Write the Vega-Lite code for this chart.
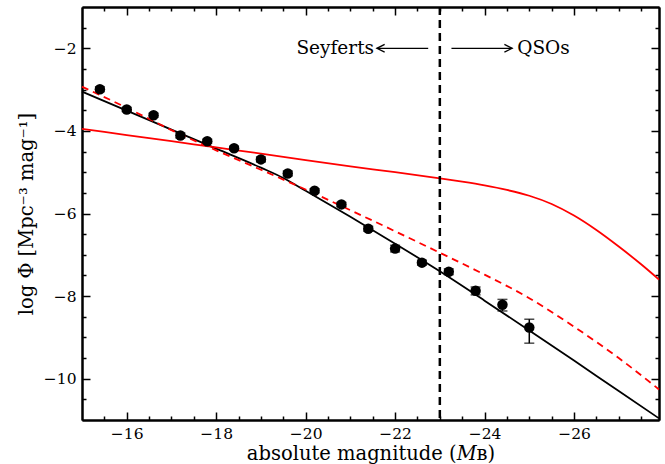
{
  "$schema": "https://vega.github.io/schema/vega-lite/v6.json",
  "width": 577,
  "height": 413,
  "autosize": {"type": "none"},
  "padding": {"left": 82, "top": 7, "right": 6, "bottom": 44},
  "config": {
    "view": {"stroke": null},
    "axis": {
      "grid": false,
      "domainColor": "black",
      "domainWidth": 2,
      "tickColor": "black",
      "tickWidth": 1.5,
      "labelColor": "black",
      "labelFont": "'DejaVu Serif', serif",
      "labelFontSize": 15.5,
      "titleFont": "'DejaVu Serif', serif",
      "titleFontSize": 19.5,
      "titleFontWeight": "normal",
      "titleColor": "black"
    }
  },
  "datasets": {
    "points": [
      {"M": -15.4, "logphi": -2.99, "lo": -3.05, "hi": -2.93},
      {"M": -16.0, "logphi": -3.48, "lo": -3.53, "hi": -3.43},
      {"M": -16.6, "logphi": -3.62, "lo": -3.67, "hi": -3.57},
      {"M": -17.2, "logphi": -4.11, "lo": -4.17, "hi": -4.05},
      {"M": -17.8, "logphi": -4.25, "lo": -4.30, "hi": -4.20},
      {"M": -18.4, "logphi": -4.42, "lo": -4.47, "hi": -4.37},
      {"M": -19.0, "logphi": -4.69, "lo": -4.75, "hi": -4.63},
      {"M": -19.6, "logphi": -5.03, "lo": -5.09, "hi": -4.97},
      {"M": -20.2, "logphi": -5.45, "lo": -5.50, "hi": -5.40},
      {"M": -20.8, "logphi": -5.78, "lo": -5.83, "hi": -5.73},
      {"M": -21.4, "logphi": -6.37, "lo": -6.43, "hi": -6.31},
      {"M": -22.0, "logphi": -6.85, "lo": -6.93, "hi": -6.77},
      {"M": -22.6, "logphi": -7.19, "lo": -7.25, "hi": -7.13},
      {"M": -23.2, "logphi": -7.41, "lo": -7.48, "hi": -7.34},
      {"M": -23.8, "logphi": -7.87, "lo": -7.97, "hi": -7.78},
      {"M": -24.4, "logphi": -8.21, "lo": -8.36, "hi": -8.08},
      {"M": -25.0, "logphi": -8.76, "lo": -9.14, "hi": -8.56}
    ],
    "black": [
      {"M": -15.0, "logphi": -3.05},
      {"M": -16.0, "logphi": -3.51},
      {"M": -17.0, "logphi": -3.97},
      {"M": -18.0, "logphi": -4.43},
      {"M": -19.0, "logphi": -4.89},
      {"M": -19.5, "logphi": -5.14},
      {"M": -20.0, "logphi": -5.45},
      {"M": -21.0, "logphi": -6.08},
      {"M": -22.0, "logphi": -6.73},
      {"M": -23.0, "logphi": -7.40},
      {"M": -24.0, "logphi": -8.11},
      {"M": -25.0, "logphi": -8.83},
      {"M": -26.0, "logphi": -9.56},
      {"M": -27.0, "logphi": -10.30},
      {"M": -27.9, "logphi": -10.96}
    ],
    "reddash": [
      {"M": -15.0, "logphi": -2.93},
      {"M": -16.0, "logphi": -3.44},
      {"M": -17.0, "logphi": -3.98},
      {"M": -18.0, "logphi": -4.47},
      {"M": -19.0, "logphi": -4.94},
      {"M": -20.0, "logphi": -5.42},
      {"M": -21.0, "logphi": -5.92},
      {"M": -22.0, "logphi": -6.43},
      {"M": -23.0, "logphi": -6.95},
      {"M": -24.0, "logphi": -7.48},
      {"M": -25.0, "logphi": -8.05},
      {"M": -26.0, "logphi": -8.74},
      {"M": -27.0, "logphi": -9.50},
      {"M": -27.9, "logphi": -10.26}
    ],
    "redsolid": [
      {"M": -15.0, "logphi": -3.95},
      {"M": -16.0, "logphi": -4.10},
      {"M": -17.0, "logphi": -4.25},
      {"M": -18.0, "logphi": -4.40},
      {"M": -19.0, "logphi": -4.55},
      {"M": -20.0, "logphi": -4.71},
      {"M": -21.0, "logphi": -4.86},
      {"M": -22.0, "logphi": -5.00},
      {"M": -23.0, "logphi": -5.15},
      {"M": -23.5, "logphi": -5.23},
      {"M": -24.0, "logphi": -5.32},
      {"M": -24.5, "logphi": -5.43},
      {"M": -25.0, "logphi": -5.57},
      {"M": -25.5, "logphi": -5.77},
      {"M": -26.0, "logphi": -6.05},
      {"M": -26.5, "logphi": -6.40},
      {"M": -27.0, "logphi": -6.80},
      {"M": -27.5, "logphi": -7.23},
      {"M": -27.9, "logphi": -7.60}
    ],
    "vline": [{"M": -23}],
    "labels": [
      {"M": -21.53, "logphi": -2.0, "label": "Seyferts"}
    ],
    "labels2": [
      {"M": -24.73, "logphi": -2.0, "label": "QSOs"}
    ],
    "arrows": [
      {"M": -22.74, "M2": -21.59, "logphi": -2.0},
      {"M": -23.26, "M2": -24.62, "logphi": -2.0}
    ],
    "headL": [{"M": -21.68, "logphi": -2.0}],
    "headR": [{"M": -24.53, "logphi": -2.0}]
  },
  "layer": [
    {
      "data": {"name": "black"},
      "mark": {"type": "line", "color": "black", "strokeWidth": 1.8, "interpolate": "monotone"},
      "encoding": {
        "x": {
          "field": "M", "type": "quantitative",
          "scale": {"domain": [-27.9, -15], "reverse": true, "nice": false, "zero": false},
          "axis": {"orient": "bottom", "values": [-16, -18, -20, -22, -24, -26], "format": "d", "tickSize": -8, "labelPadding": 14, "title": "absolute magnitude (𝑀ʙ)", "titlePadding": 3}
        },
        "y": {
          "field": "logphi", "type": "quantitative",
          "scale": {"domain": [-11, -1], "nice": false, "zero": false},
          "axis": {"orient": "left", "values": [-2, -4, -6, -8, -10], "format": "d", "tickSize": -8, "labelPadding": 14, "title": "log Φ [Mpc⁻³  mag⁻¹]", "titlePadding": 7}
        }
      }
    },
    {
      "data": {"name": "redsolid"},
      "mark": {"type": "line", "color": "#ff0000", "strokeWidth": 1.8, "interpolate": "monotone"},
      "encoding": {
        "x": {"field": "M", "type": "quantitative", "axis": {"orient": "top", "values": [-16, -18, -20, -22, -24, -26], "labels": false, "tickSize": -8, "title": null}},
        "y": {"field": "logphi", "type": "quantitative", "axis": {"orient": "right", "values": [-2, -4, -6, -8, -10], "labels": false, "tickSize": -8, "title": null}}
      }
    },
    {
      "data": {"name": "reddash"},
      "mark": {"type": "line", "color": "#ff0000", "strokeWidth": 1.8, "strokeDash": [7, 5], "interpolate": "monotone"},
      "encoding": {
        "x": {"field": "M", "type": "quantitative", "axis": {"orient": "bottom", "values": [-15.5, -16.5, -17, -17.5, -18.5, -19, -19.5, -20.5, -21, -21.5, -22.5, -23, -23.5, -24.5, -25, -25.5, -26.5, -27, -27.5], "labels": false, "tickSize": -4, "title": null}},
        "y": {"field": "logphi", "type": "quantitative", "axis": {"orient": "left", "values": [-1.5, -2.5, -3, -3.5, -4.5, -5, -5.5, -6.5, -7, -7.5, -8.5, -9, -9.5, -10.5], "labels": false, "tickSize": -4, "title": null}}
      }
    },
    {
      "data": {"name": "vline"},
      "mark": {"type": "rule", "color": "black", "strokeWidth": 2.5, "strokeDash": [8, 5]},
      "encoding": {
        "x": {"field": "M", "type": "quantitative", "axis": null}
      }
    },
    {
      "data": {"name": "points"},
      "mark": {"type": "errorbar", "ticks": {"size": 10}, "thickness": 1.5, "color": "black"},
      "encoding": {
        "x": {"field": "M", "type": "quantitative", "axis": null},
        "y": {"field": "lo", "type": "quantitative", "axis": null},
        "y2": {"field": "hi"}
      }
    },
    {
      "data": {"name": "points"},
      "mark": {"type": "point", "filled": true, "color": "black", "size": 110, "opacity": 1},
      "encoding": {
        "x": {"field": "M", "type": "quantitative", "axis": {"orient": "top", "values": [-15.5, -16.5, -17, -17.5, -18.5, -19, -19.5, -20.5, -21, -21.5, -22.5, -23, -23.5, -24.5, -25, -25.5, -26.5, -27, -27.5], "labels": false, "tickSize": -4, "title": null}},
        "y": {"field": "logphi", "type": "quantitative", "axis": {"orient": "right", "values": [-1.5, -2.5, -3, -3.5, -4.5, -5, -5.5, -6.5, -7, -7.5, -8.5, -9, -9.5, -10.5], "labels": false, "tickSize": -4, "title": null}}
      }
    },
    {
      "data": {"name": "labels"},
      "mark": {"type": "text", "align": "right", "baseline": "middle", "font": "'DejaVu Serif', serif", "fontSize": 18.5, "color": "black"},
      "encoding": {
        "x": {"field": "M", "type": "quantitative", "axis": null},
        "y": {"field": "logphi", "type": "quantitative", "axis": null},
        "text": {"field": "label"}
      }
    },
    {
      "data": {"name": "labels2"},
      "mark": {"type": "text", "align": "left", "baseline": "middle", "font": "'DejaVu Serif', serif", "fontSize": 18.5, "color": "black"},
      "encoding": {
        "x": {"field": "M", "type": "quantitative", "axis": null},
        "y": {"field": "logphi", "type": "quantitative", "axis": null},
        "text": {"field": "label"}
      }
    },
    {
      "data": {"name": "arrows"},
      "mark": {"type": "rule", "color": "black", "strokeWidth": 1.3},
      "encoding": {
        "x": {"field": "M", "type": "quantitative", "axis": null},
        "x2": {"field": "M2"},
        "y": {"field": "logphi", "type": "quantitative", "axis": null}
      }
    },
    {
      "data": {"name": "headL"},
      "mark": {"type": "point", "shape": "M1,-1L-1,0L1,1", "filled": false, "color": "black", "strokeWidth": 1.3, "size": 60, "opacity": 1},
      "encoding": {
        "x": {"field": "M", "type": "quantitative", "axis": null},
        "y": {"field": "logphi", "type": "quantitative", "axis": null}
      }
    },
    {
      "data": {"name": "headR"},
      "mark": {"type": "point", "shape": "M-1,-1L1,0L-1,1", "filled": false, "color": "black", "strokeWidth": 1.3, "size": 60, "opacity": 1},
      "encoding": {
        "x": {"field": "M", "type": "quantitative", "axis": null},
        "y": {"field": "logphi", "type": "quantitative", "axis": null}
      }
    }
  ],
  "resolve": {"axis": {"x": "independent", "y": "independent"}}
}
